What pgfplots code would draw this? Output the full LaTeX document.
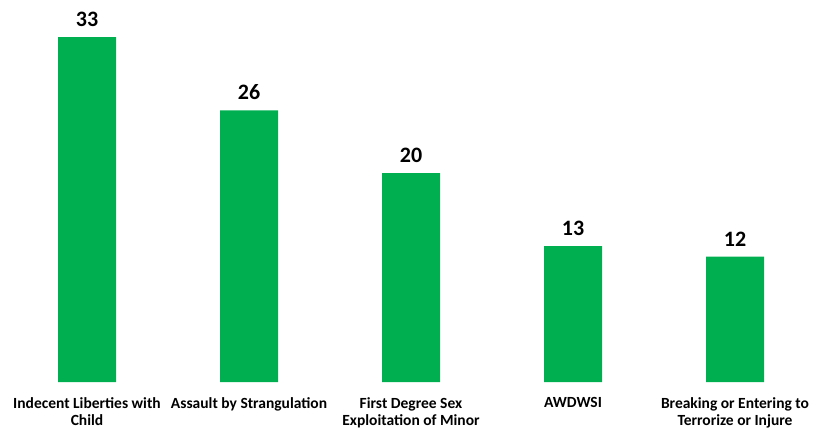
\documentclass[border=0pt]{standalone}
\usepackage{pgfplots}
\pgfplotsset{compat=1.18}
\usepackage{fontspec}
\setmainfont{Carlito}
\definecolor{bargreen}{RGB}{0,176,80}
\begin{document}
\begin{tikzpicture}
\begin{axis}[
  scale only axis,
  width=810bp, height=381.4bp,
  xmin=-0.5, xmax=4.5, ymin=0, ymax=36.5,
  axis line style={draw=none},
  major tick length=0pt,
  ybar, bar width=58bp,
  xtick=data,
  xticklabels={{Indecent Liberties with\\Child}, {Assault by Strangulation}, {First Degree Sex\\Exploitation of Minor}, {AWDWSI}, {Breaking or Entering to\\Terrorize or Injure}},
  xticklabel style={font=\fontsize{15.5bp}{17bp}\selectfont\bfseries, align=center, anchor=north, inner sep=0pt, yshift=-15bp},
  ytick=\empty,
  /pgf/number format/assume math mode=true,
  nodes near coords={\pgfmathprintnumber{\pgfplotspointmeta}},
  nodes near coords style={font=\fontsize{22bp}{26bp}\selectfont\bfseries, anchor=south, inner sep=0pt, yshift=10bp},
  clip=false,
]
\addplot[fill=bargreen, draw=none] coordinates {(0,33) (1,26) (2,20) (3,13) (4,12)};
\end{axis}
\useasboundingbox (-6bp,-48bp) rectangle (819bp,382bp);
\end{tikzpicture}
\end{document}
